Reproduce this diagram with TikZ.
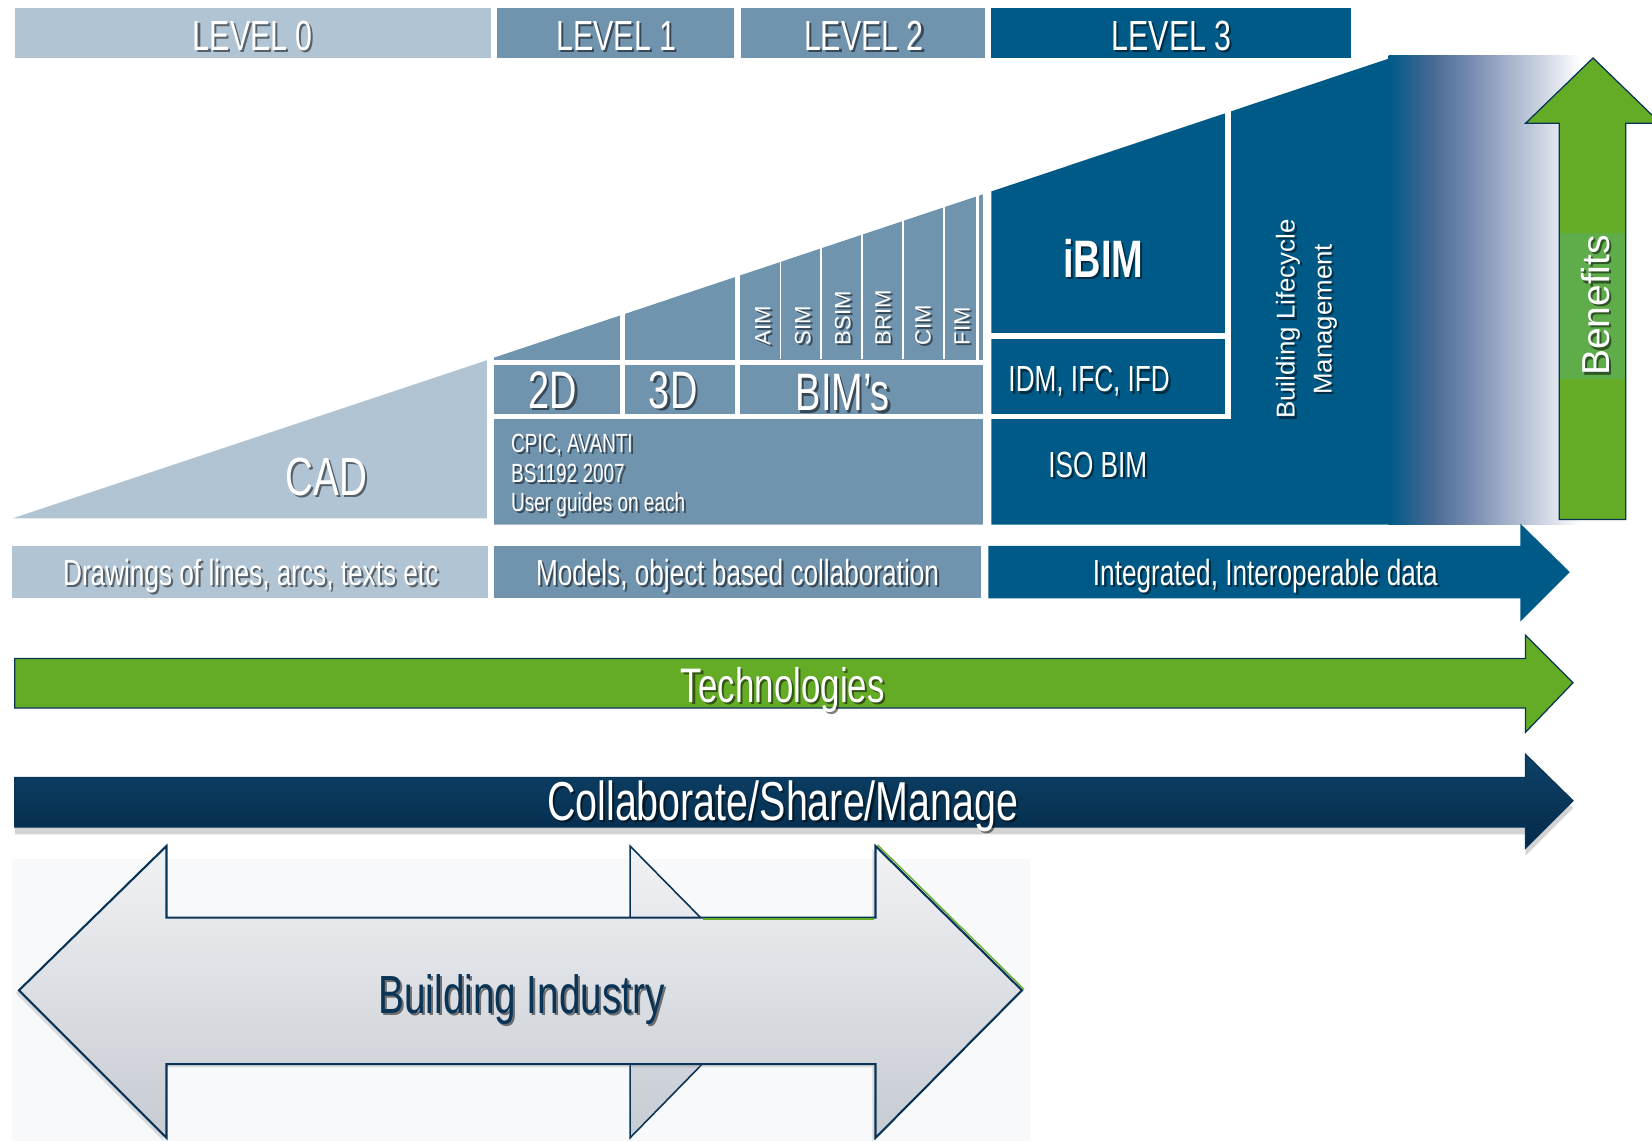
\documentclass[tikz,border=0pt]{standalone}
\usepackage{fontspec}
\setmainfont{Liberation Sans}
\newfontfamily\nf[FakeStretch=0.72]{Liberation Sans}
\usetikzlibrary{shadows,calc}
\definecolor{lvlA}{HTML}{B0C4D4}
\definecolor{lvlB}{HTML}{7093AE}
\definecolor{lvlC}{HTML}{005A87}
\definecolor{grn}{HTML}{64AC26}
\definecolor{grnpatch}{HTML}{5EAD4A}
\definecolor{navy}{HTML}{0A3456}
\definecolor{navytop}{HTML}{0D4268}
\definecolor{navybot}{HTML}{042A49}
\definecolor{gA}{RGB}{72,106,148}
\definecolor{gB}{RGB}{125,145,180}
\definecolor{gC}{RGB}{215,220,232}
\definecolor{bitop}{HTML}{F1F2F4}
\definecolor{bibot}{HTML}{C6CBD2}
\definecolor{panel}{HTML}{F8F9FB}
\pgfdeclarehorizontalshading{benefgrad}{100bp}{color(0bp)=(lvlC); color(25bp)=(lvlC); color(36.5bp)=(gA); color(47.8bp)=(gB); color(67bp)=(gC); color(75bp)=(white); color(100bp)=(white)}
\newcommand\fsz[1]{\fontsize{#1}{#1}\selectfont}
\newcommand\shtxt[4]{%
  \node[#3,text=black,text opacity=0.5] (#1s) at ([shift={(2,2)}]#2) {#4};
  \node[#3] (#1) at (#2) {#4};}
\tikzset{
  wt/.style={text=white,inner sep=0pt},
  wline/.style={white,line width=5pt},
  thinw/.style={white,line width=1.5pt},
  arrowout/.style={draw=navy,line width=1.2pt,line join=miter},
}
\begin{document}
\begin{tikzpicture}[x=1pt,y=-1pt]
\useasboundingbox (0,0) rectangle (1568,1083);
% ---------- level headers
\fill[lvlA] (14,8) rectangle (466,55);
\fill[lvlB] (472,8) rectangle (697,55);
\fill[lvlB] (703,8) rectangle (935,55);
\fill[lvlC] (941,8) rectangle (1282,55);
\shtxt{h0}{240,48}{wt,anchor=base,font=\nf\fsz{40}}{LEVEL 0}
\shtxt{h1}{585,48}{wt,anchor=base,font=\nf\fsz{40}}{LEVEL 1}
\shtxt{h2}{820,48}{wt,anchor=base,font=\nf\fsz{40}}{LEVEL 2}
\shtxt{h3}{1112,48}{wt,anchor=base,font=\nf\fsz{40}}{LEVEL 3}
% ---------- gradient behind benefits
\shade[shading=benefgrad] (1318,53) rectangle (1500,498);
% ---------- CAD triangle
\fill[lvlA] (12,492) -- (462,342) -- (462,492) -- cycle;
\shtxt{cad}{310,470}{wt,anchor=base,font=\nf\fsz{51}}{CAD}
% ---------- level 1/2 block
\fill[lvlB] (469,339.4) -- (933,184.4) -- (933,498) -- (469,498) -- cycle;
\draw[wline] (466,344) -- (936,344);
\draw[wline] (466,395.5) -- (936,395.5);
\draw[wline] (591,280) -- (591,395);
\draw[wline] (700,240) -- (700,395);
\foreach \x in {741,779,818,857,896} \draw[thinw] (\x,190) -- (\x,341);
\draw[white,line width=2.5pt] (928,175) -- (928,344);
\shtxt{d2}{525,388}{wt,anchor=base,font=\nf\fsz{50}}{2D}
\shtxt{d3}{639,388}{wt,anchor=base,font=\nf\fsz{50}}{3D}
\shtxt{bims}{800,390}{wt,anchor=base,font=\nf\fsz{50}}{BIM’s}
\shtxt{aim}{724,328}{wt,anchor=west,rotate=90,font=\fsz{21}}{AIM}
\shtxt{sim}{762,328}{wt,anchor=west,rotate=90,font=\fsz{21}}{SIM}
\shtxt{bsim}{800,328}{wt,anchor=west,rotate=90,font=\fsz{21}}{BSIM}
\shtxt{brim}{838,328}{wt,anchor=west,rotate=90,font=\fsz{21}}{BRIM}
\shtxt{cim}{876,328}{wt,anchor=west,rotate=90,font=\fsz{21}}{CIM}
\shtxt{fim}{913,328}{wt,anchor=west,rotate=90,font=\fsz{21}}{FIM}
\shtxt{cpic}{485,412}{wt,anchor=north west,align=left,font={\nf\fontsize{25}{28}\selectfont}}{CPIC, AVANTI\\BS1192 2007\\User guides on each}
% ---------- level 3 block
\fill[lvlC] (941,181.7) -- (1320,55) -- (1320,498) -- (941,498) -- cycle;
\draw[wline] (1165.5,95) -- (1165.5,398);
\draw[wline] (939,319) -- (1165,319);
\draw[wline] (939,395.5) -- (1168,395.5);
\shtxt{ibim}{1047,263}{wt,anchor=base,font=\nf\bfseries\fsz{50}}{iBIM}
\shtxt{idm}{957,372}{wt,anchor=base west,font=\nf\fsz{34.5}}{IDM, IFC, IFD}
\shtxt{iso}{1042,453}{wt,anchor=base,font=\nf\fsz{34.5}}{ISO BIM}
\shtxt{blm}{1240,303}{wt,rotate=90,align=center,font={\fontsize{24.5}{35}\selectfont}}{Building Lifecycle\\Management}
% ---------- benefits arrow
\draw[arrowout,fill=grn] (1480,493) -- (1480,117) -- (1448,117) -- (1512,55) -- (1576,117) -- (1543,117) -- (1543,493) -- cycle;
\fill[grnpatch] (1481,221) rectangle (1542,360);
\shtxt{ben}{1514,290}{wt,rotate=90,font=\fsz{37}}{Benefits}
% ---------- description row
\fill[lvlA] (11,518) rectangle (463,568);
\fill[lvlB] (469,518) rectangle (931,568);
\fill[lvlC] (938,518) -- (1443,518) -- (1443,497) -- (1490,543) -- (1443,590) -- (1443,568) -- (938,568) -- cycle;
\shtxt{r1}{238,556}{wt,anchor=base,font=\nf\fsz{34.5}}{Drawings of lines, arcs, texts etc}
\shtxt{r2}{700,556}{wt,anchor=base,font=\nf\fsz{34.5}}{Models, object based collaboration}
\shtxt{r3}{1201,556}{wt,anchor=base,font=\nf\fsz{34.5}}{Integrated, Interoperable data}
% ---------- technologies arrow
\draw[arrowout,fill=grn] (14,625) -- (1448,625) -- (1448,603) -- (1493,648) -- (1448,695) -- (1448,672) -- (14,672) -- cycle;
\shtxt{tech}{743,667}{wt,anchor=base,font=\nf\fsz{46}}{Technologies}
% ---------- collaborate arrow
\draw[arrowout,top color=navytop,bottom color=navybot,drop shadow={opacity=0.35,shadow xshift=0pt,shadow yshift=-7pt}] (14,738) -- (1448,738) -- (1448,716) -- (1493,760) -- (1448,805) -- (1448,785) -- (14,785) -- cycle;
\shtxt{collab}{743,779}{wt,anchor=base,font=\nf\fsz{52}}{Collaborate/Share/Manage}
% ---------- building industry
\fill[panel] (11,815) rectangle (978,1083);
\draw[draw=navy,line width=1.5pt,top color=bitop,bottom color=bibot] (598,803) -- (734,941) -- (598,1080) -- cycle;
\draw[draw=navy,line width=2pt,top color=bitop,bottom color=bibot,drop shadow={opacity=0.25,shadow xshift=-3pt,shadow yshift=-3pt}] (18,940) -- (158,803) -- (158,871) -- (831,871) -- (831,803) -- (970,940) -- (831,1080) -- (831,1010) -- (158,1010) -- (158,1080) -- cycle;
\draw[grn,line width=1.5pt] (667,872) -- (830,872);
\draw[grn,line width=1.2pt] (833,802) -- (972,939);
\shtxt{bi}{495,962}{anchor=base,inner sep=0pt,text=navy,font=\nf\fsz{51}}{Building Industry}
\end{tikzpicture}
\end{document}
